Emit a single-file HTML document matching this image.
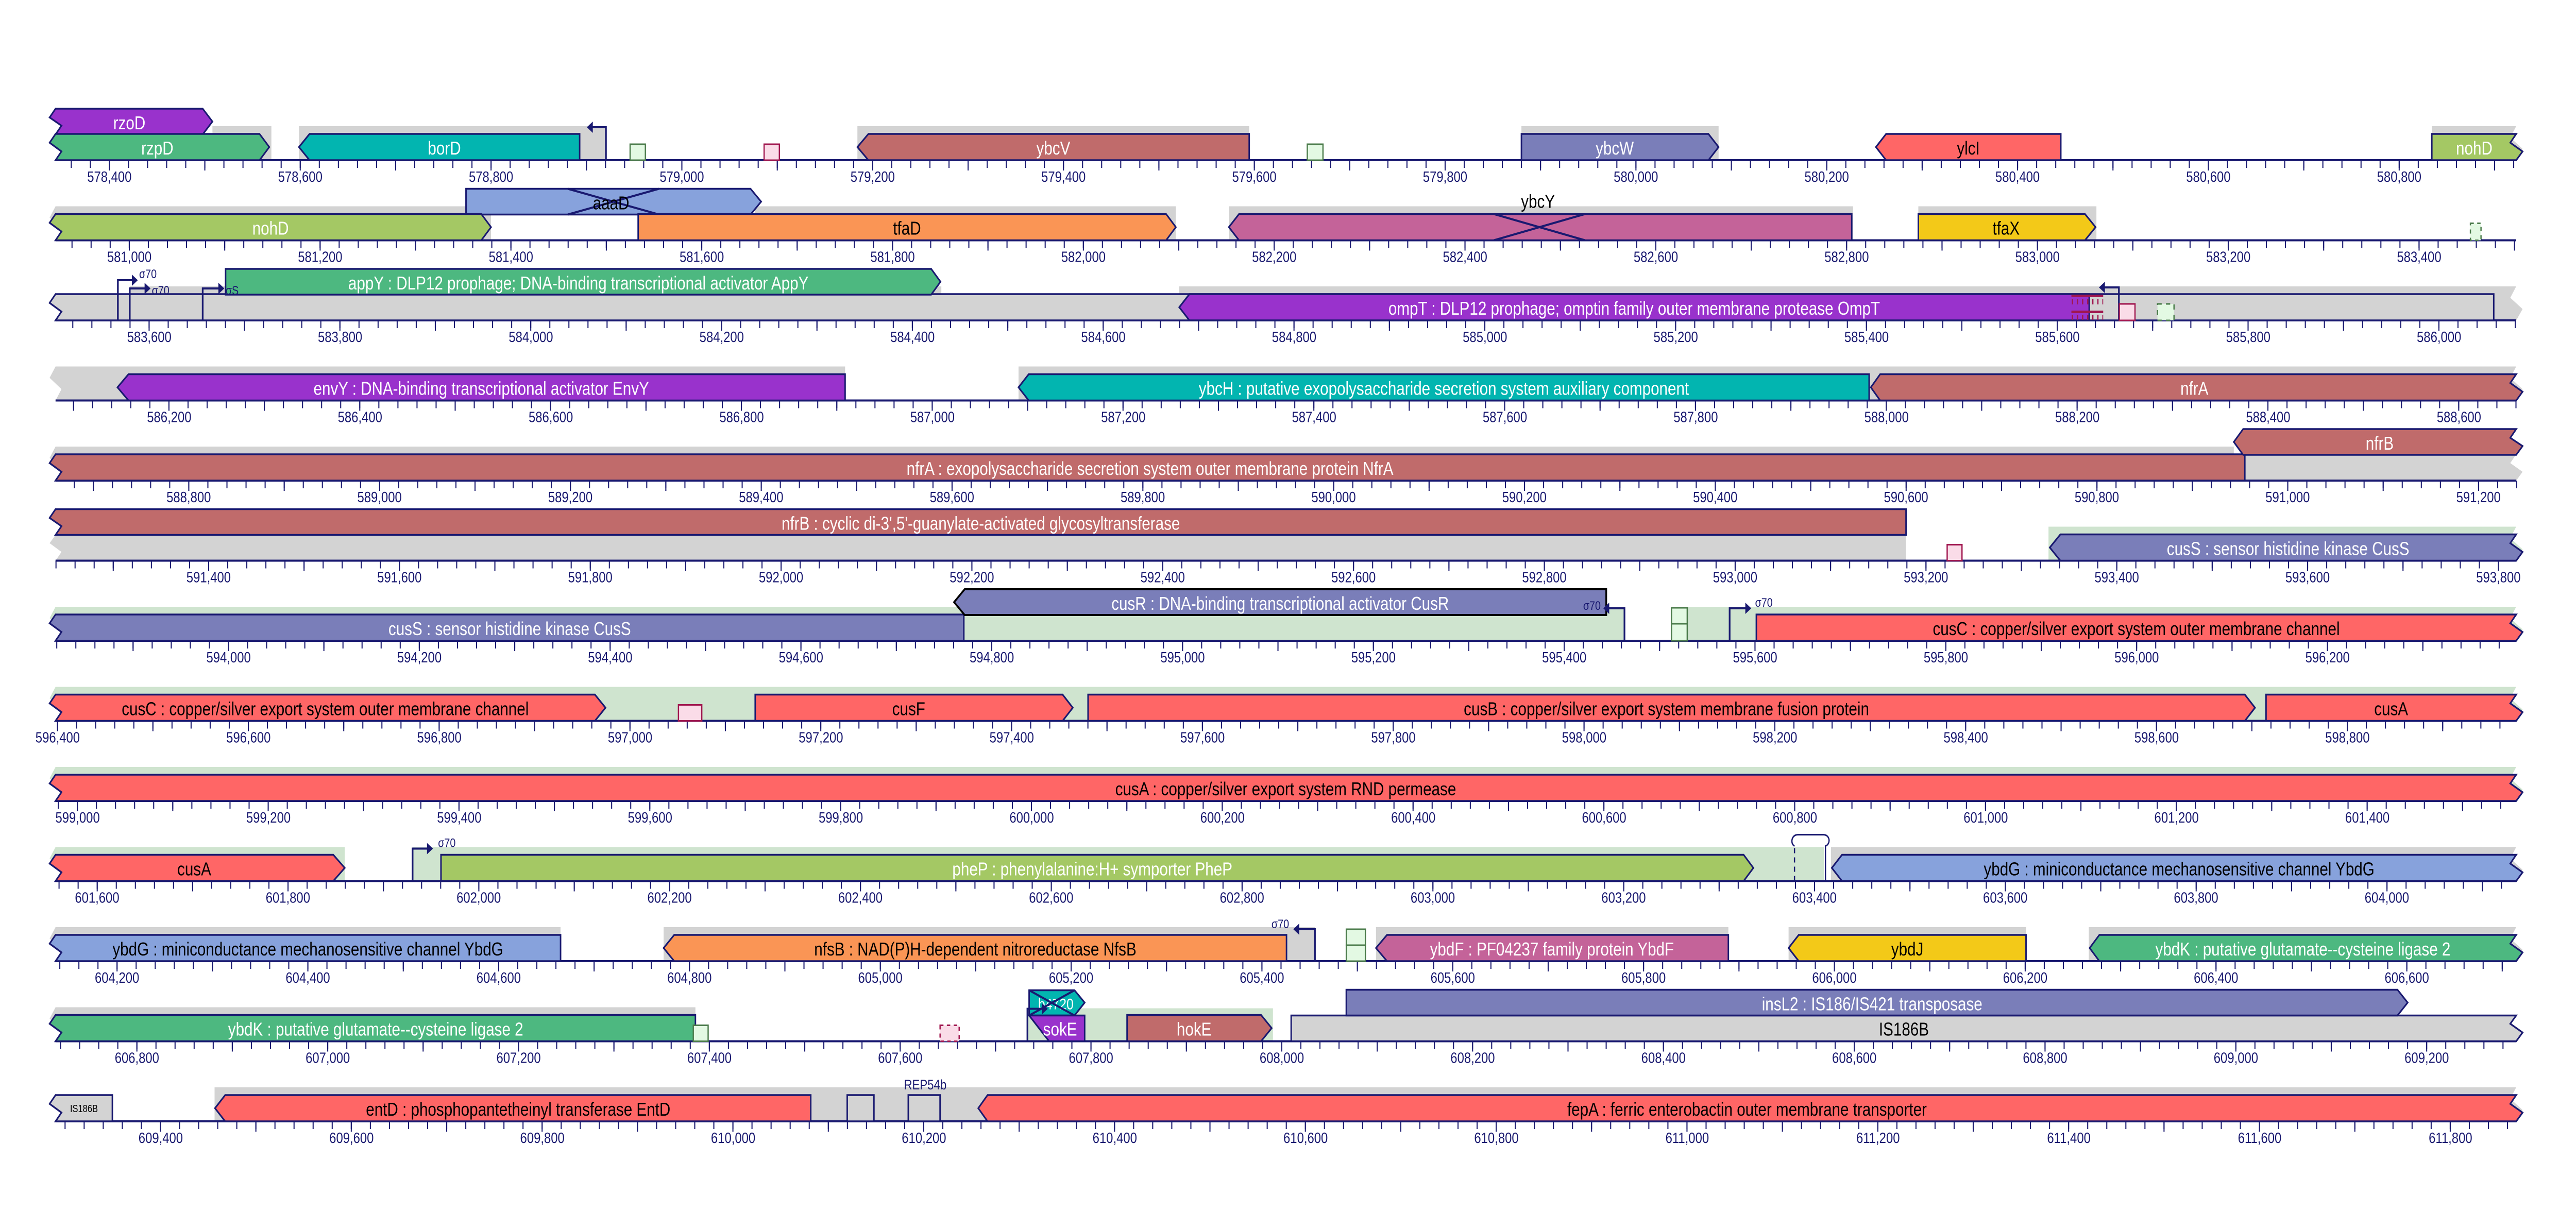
<!DOCTYPE html>
<html><head><meta charset="utf-8"><style>
html,body{margin:0;padding:0;background:#fff;width:100%;height:100%;overflow:hidden;}
svg{display:block;width:100vw;height:100vh;}
text{font-family:"Liberation Sans",Arial,sans-serif;}
.t{font-size:29px;fill:#191970;text-anchor:middle;}
.w{font-size:36px;fill:#fff;text-anchor:middle;}
.k{font-size:36px;fill:#000;text-anchor:middle;}
.s{font-size:24px;fill:#191970;}
.gn{stroke:#191970;stroke-width:3.5;stroke-linejoin:miter;}
.ax{stroke:#191970;stroke-width:4;}
.mi{stroke:#191970;stroke-width:15;stroke-dasharray:2.5 42.5;}
.ma{stroke:#191970;stroke-width:20;stroke-dasharray:2.5 222.5;}
.gb{fill:#d3d3d3;}
.lg{fill:#cfe4cf;}
.pk{fill:#fadce8;stroke:#a0174f;stroke-width:3;}
.gr{fill:#e3f9e3;stroke:#4b7b4b;stroke-width:3;}
.pr{stroke:#191970;stroke-width:4;fill:none;}
.ah{fill:#191970;}
</style></head><body>
<svg viewBox="0 0 6075 2353" preserveAspectRatio="none" xmlns="http://www.w3.org/2000/svg">
<rect width="6075" height="2353" fill="#fff"/>

<!-- ROW 1 -->
<g transform="translate(0,311)">
<rect class="gb" x="501" y="-66" width="139" height="66"/>
<rect class="gb" x="705" y="-66" width="724" height="66"/>
<rect class="gb" x="2022" y="-66" width="924" height="66"/>
<rect class="gb" x="3588" y="-66" width="465" height="66"/>
<polygon class="gb" points="5735,-66 5934,-66 5920,-44 5949,-22 5934,0 5735,0"/>
<line class="ax" x1="131" x2="5934" y1="0" y2="0"/>
<line class="mi" x1="166.8" x2="5936" y1="7.5" y2="7.5"/>
<line class="ma" x1="256.8" x2="5936" y1="10" y2="10"/>
<text class="t" y="42" x="258">578,400</text><text class="t" y="42" x="708">578,600</text><text class="t" y="42" x="1158">578,800</text><text class="t" y="42" x="1608">579,000</text><text class="t" y="42" x="2058">579,200</text><text class="t" y="42" x="2508">579,400</text><text class="t" y="42" x="2958">579,600</text><text class="t" y="42" x="3408">579,800</text><text class="t" y="42" x="3858">580,000</text><text class="t" y="42" x="4308">580,200</text><text class="t" y="42" x="4758">580,400</text><text class="t" y="42" x="5208">580,600</text><text class="t" y="42" x="5658">580,800</text>
<polygon class="gn" fill="#9932cc" points="131,-100 478,-100 501,-75 478,-50 131,-50 145,-67 117,-83"/>
<text class="w" x="305" y="-60">rzoD</text>
<polygon class="gn" fill="#4db880" points="131,-51 612,-51 635,-25.5 612,0 131,0 145,-17 117,-34"/>
<text class="w" x="371" y="-11">rzpD</text>
<polygon class="gn" fill="#02b5b0" points="705,-25.5 730,-51 1367,-51 1367,0 730,0"/>
<text class="w" x="1048" y="-11">borD</text>
<path class="pr" d="M1429,0 V-64 H1396"/><polygon class="ah" points="1384,-64 1398,-75 1398,-53"/>
<rect class="gr" x="1486" y="-31" width="36" height="31"/>
<rect class="pk" x="1802" y="-31" width="36" height="31"/>
<polygon class="gn" fill="#c06b6b" points="2022,-25.5 2048,-51 2946,-51 2946,0 2048,0"/>
<text class="w" x="2484" y="-11">ybcV</text>
<rect class="gr" x="3083" y="-31" width="37" height="31"/>
<polygon class="gn" fill="#7a7eb9" points="3588,-51 4029,-51 4053,-25.5 4029,0 3588,0"/>
<text class="w" x="3808" y="-11">ybcW</text>
<polygon class="gn" fill="#ff6666" points="4424,-25.5 4448,-51 4860,-51 4860,0 4448,0"/>
<text class="k" x="4642" y="-11">ylcI</text>
<polygon class="gn" fill="#a4c864" points="5735,-51 5934,-51 5920,-34 5949,-17 5934,0 5735,0"/>
<text class="w" x="5835" y="-11">nohD</text>
</g>

<!-- ROW 2 -->
<g transform="translate(0,466.5)">
<polygon class="gb" points="131,-66 1158,-66 1158,0 131,0 145,-22 117,-44"/>
<rect class="gb" x="1780" y="-66" width="993" height="66"/>
<rect class="gb" x="2898" y="-66" width="1472" height="66"/>
<rect class="gb" x="4524" y="-66" width="420" height="66"/>
<line class="ax" x1="131" x2="5934" y1="0" y2="0"/>
<line class="mi" x1="168.6" x2="5936" y1="7.5" y2="7.5"/>
<line class="ma" x1="303.7" x2="5936" y1="10" y2="10"/>
<text class="t" y="42" x="305">581,000</text><text class="t" y="42" x="755">581,200</text><text class="t" y="42" x="1205">581,400</text><text class="t" y="42" x="1655">581,600</text><text class="t" y="42" x="2105">581,800</text><text class="t" y="42" x="2555">582,000</text><text class="t" y="42" x="3005">582,200</text><text class="t" y="42" x="3455">582,400</text><text class="t" y="42" x="3905">582,600</text><text class="t" y="42" x="4355">582,800</text><text class="t" y="42" x="4805">583,000</text><text class="t" y="42" x="5255">583,200</text><text class="t" y="42" x="5705">583,400</text>
<polygon class="gn" fill="#87a2dc" points="1099,-100 1770,-100 1795,-75 1770,-50 1099,-50"/>
<line class="pr" x1="1339" y1="-100" x2="1554" y2="-50"/><line class="pr" x1="1554" y1="-100" x2="1339" y2="-50"/>
<text class="k" x="1441" y="-60">aaaD</text>
<polygon class="gn" fill="#a4c864" points="131,-51 1135,-51 1158,-25.5 1135,0 131,0 145,-17 117,-34"/>
<text class="w" x="638" y="-11">nohD</text>
<polygon class="gn" fill="#fa9555" points="1505,-51 2750,-51 2773,-25.5 2750,0 1505,0"/>
<text class="k" x="2139" y="-11">tfaD</text>
<polygon class="gn" fill="#c46399" points="2898,-25.5 2922,-51 4367,-51 4367,0 2922,0"/>
<line class="pr" x1="3523" y1="-51" x2="3738" y2="0"/><line class="pr" x1="3738" y1="-51" x2="3523" y2="0"/>
<text class="k" x="3627" y="-63">ybcY</text>
<polygon class="gn" fill="#f3c918" points="4524,-51 4917,-51 4942,-25.5 4917,0 4524,0"/>
<text class="k" x="4731" y="-11">tfaX</text>
<rect class="gr" x="5826" y="-33" width="25" height="33" stroke-dasharray="8 8"/>
</g>

<!-- ROW 3 -->
<g transform="translate(0,622)">
<rect class="gb" x="306" y="-66" width="1914" height="66"/>
<polygon class="gb" points="2781,-66 5934,-66 5920,-44 5949,-22 5934,0 2781,0"/>
<line class="ax" x1="131" x2="5934" y1="0" y2="0"/>
<line class="mi" x1="170.4" x2="5936" y1="7.5" y2="7.5"/>
<line class="ma" x1="350.4" x2="5936" y1="10" y2="10"/>
<text class="t" y="42" x="352">583,600</text><text class="t" y="42" x="802">583,800</text><text class="t" y="42" x="1252">584,000</text><text class="t" y="42" x="1702">584,200</text><text class="t" y="42" x="2152">584,400</text><text class="t" y="42" x="2602">584,600</text><text class="t" y="42" x="3052">584,800</text><text class="t" y="42" x="3502">585,000</text><text class="t" y="42" x="3952">585,200</text><text class="t" y="42" x="4402">585,400</text><text class="t" y="42" x="4852">585,600</text><text class="t" y="42" x="5302">585,800</text><text class="t" y="42" x="5752">586,000</text>
<polygon class="gn" fill="#d3d3d3" points="131,-51 5881,-51 5881,0 131,0 145,-17 117,-34"/>
<polygon class="gn" fill="#4db880" points="532,-100 2196,-100 2218,-75 2196,-50 532,-50"/>
<text class="w" x="1364" y="-60">appY : DLP12 prophage; DNA-binding transcriptional activator AppY</text>
<path class="pr" d="M278,0 V-78 H313"/><polygon class="ah" points="325,-78 311,-89 311,-67"/><text class="s" x="328" y="-82">σ70</text>
<path class="pr" d="M306,0 V-62 H343"/><polygon class="ah" points="355,-62 341,-73 341,-51"/><text class="s" x="358" y="-50">σ70</text>
<path class="pr" d="M478,0 V-62 H517"/><polygon class="ah" points="529,-62 515,-73 515,-51"/><text class="s" x="532" y="-50">σS</text>
<polygon class="gn" fill="#9932cc" points="2781,-25.5 2805,-51 4927,-51 4927,0 2805,0"/>
<text class="w" x="3854" y="-11">ompT : DLP12 prophage; omptin family outer membrane protease OmpT</text>
<rect x="4885" y="-50" width="75" height="5" fill="#a0174f"/>
<rect x="4885" y="-19" width="75" height="5" fill="#a0174f"/>
<line x1="4886" x2="4960" y1="-36" y2="-36" stroke="#a0174f" stroke-width="10" stroke-dasharray="3 9"/>
<line x1="4886" x2="4960" y1="-6" y2="-6" stroke="#a0174f" stroke-width="10" stroke-dasharray="3 9"/>
<path class="pr" d="M4997,0 V-64 H4962"/><polygon class="ah" points="4950,-64 4964,-75 4964,-53"/>
<rect class="pk" x="4998" y="-32" width="37" height="32"/>
<rect class="gr" x="5088" y="-32" width="39" height="32" stroke-dasharray="10 10"/>
</g>

<!-- ROW 4 -->
<g transform="translate(0,777.5)">
<polygon class="gb" points="131,-66 1993,-66 1993,0 131,0 145,-22 117,-44"/>
<polygon class="gb" points="2402,-66 5934,-66 5920,-44 5949,-22 5934,0 2402,0"/>
<line class="ax" x1="131" x2="5934" y1="0" y2="0"/>
<line class="mi" x1="172.2" x2="5936" y1="7.5" y2="7.5"/>
<line class="ma" x1="172.2" x2="5936" y1="10" y2="10"/>
<text class="t" y="42" x="399">586,200</text><text class="t" y="42" x="849">586,400</text><text class="t" y="42" x="1299">586,600</text><text class="t" y="42" x="1749">586,800</text><text class="t" y="42" x="2199">587,000</text><text class="t" y="42" x="2649">587,200</text><text class="t" y="42" x="3099">587,400</text><text class="t" y="42" x="3549">587,600</text><text class="t" y="42" x="3999">587,800</text><text class="t" y="42" x="4449">588,000</text><text class="t" y="42" x="4899">588,200</text><text class="t" y="42" x="5349">588,400</text><text class="t" y="42" x="5799">588,600</text>
<polygon class="gn" fill="#9932cc" points="277,-25.5 303,-51 1993,-51 1993,0 303,0"/>
<text class="w" x="1135" y="-11">envY : DNA-binding transcriptional activator EnvY</text>
<polygon class="gn" fill="#02b5b0" points="2402,-25.5 2426,-51 4408,-51 4408,0 2426,0"/>
<text class="w" x="3405" y="-11">ybcH : putative exopolysaccharide secretion system auxiliary component</text>
<polygon class="gn" fill="#c06b6b" points="4412,-25.5 4434,-51 5934,-51 5920,-34 5949,-17 5934,0 4434,0"/>
<text class="w" x="5175" y="-11">nfrA</text>
</g>

<!-- ROW 5 -->
<g transform="translate(0,933)">
<polygon class="gb" points="131,-66 5268,-66 5268,0 131,0 145,-22 117,-44"/>
<polygon class="gb" points="5294,-51 5934,-51 5920,-34 5949,-17 5934,0 5294,0"/>
<line class="ax" x1="131" x2="5934" y1="0" y2="0"/>
<line class="mi" x1="174" x2="5936" y1="7.5" y2="7.5"/>
<line class="ma" x1="219" x2="5936" y1="10" y2="10"/>
<text class="t" y="42" x="445">588,800</text><text class="t" y="42" x="895">589,000</text><text class="t" y="42" x="1345">589,200</text><text class="t" y="42" x="1795">589,400</text><text class="t" y="42" x="2245">589,600</text><text class="t" y="42" x="2695">589,800</text><text class="t" y="42" x="3145">590,000</text><text class="t" y="42" x="3595">590,200</text><text class="t" y="42" x="4045">590,400</text><text class="t" y="42" x="4495">590,600</text><text class="t" y="42" x="4945">590,800</text><text class="t" y="42" x="5395">591,000</text><text class="t" y="42" x="5845">591,200</text>
<polygon class="gn" fill="#c06b6b" points="131,-51 5294,-51 5294,0 131,0 145,-17 117,-34"/>
<text class="w" x="2712" y="-11">nfrA : exopolysaccharide secretion system outer membrane protein NfrA</text>
<polygon class="gn" fill="#c06b6b" points="5268,-75 5290,-100 5934,-100 5920,-83 5949,-67 5934,-50 5290,-50"/>
<text class="w" x="5612" y="-60">nfrB</text>
</g>

<!-- ROW 6 -->
<g transform="translate(0,1088.5)">
<polygon class="gb" points="131,-50 4495,-50 4495,0 131,0 145,-17 117,-34"/>
<polygon class="lg" points="4831,-66 5934,-66 5920,-44 5949,-22 5934,0 4831,0"/>
<line class="ax" x1="131" x2="5934" y1="0" y2="0"/>
<line class="mi" x1="130.8" x2="5936" y1="7.5" y2="7.5"/>
<line class="ma" x1="265.8" x2="5936" y1="10" y2="10"/>
<text class="t" y="42" x="492">591,400</text><text class="t" y="42" x="942">591,600</text><text class="t" y="42" x="1392">591,800</text><text class="t" y="42" x="1842">592,000</text><text class="t" y="42" x="2292">592,200</text><text class="t" y="42" x="2742">592,400</text><text class="t" y="42" x="3192">592,600</text><text class="t" y="42" x="3642">592,800</text><text class="t" y="42" x="4092">593,000</text><text class="t" y="42" x="4542">593,200</text><text class="t" y="42" x="4992">593,400</text><text class="t" y="42" x="5442">593,600</text><text class="t" y="42" x="5892">593,800</text>
<polygon class="gn" fill="#c06b6b" points="131,-100 4495,-100 4495,-50 131,-50 145,-67 117,-83"/>
<text class="w" x="2313" y="-60">nfrB : cyclic di-3',5'-guanylate-activated glycosyltransferase</text>
<rect class="pk" x="4592" y="-31" width="35" height="31"/>
<polygon class="gn" fill="#7a7eb9" points="4834,-25.5 4859,-51 5934,-51 5920,-34 5949,-17 5934,0 4859,0"/>
<text class="w" x="5396" y="-11">cusS : sensor histidine kinase CusS</text>
</g>

<!-- ROW 7 -->
<g transform="translate(0,1244)">
<polygon class="lg" points="131,-66 3831,-66 3831,0 131,0 145,-22 117,-44"/>
<polygon class="lg" points="3955,-66 5934,-66 5920,-44 5949,-22 5934,0 3955,0"/>
<line class="ax" x1="131" x2="5934" y1="0" y2="0"/>
<line class="mi" x1="132.6" x2="5936" y1="7.5" y2="7.5"/>
<line class="ma" x1="312.6" x2="5936" y1="10" y2="10"/>
<text class="t" y="42" x="539">594,000</text><text class="t" y="42" x="989">594,200</text><text class="t" y="42" x="1439">594,400</text><text class="t" y="42" x="1889">594,600</text><text class="t" y="42" x="2339">594,800</text><text class="t" y="42" x="2789">595,000</text><text class="t" y="42" x="3239">595,200</text><text class="t" y="42" x="3689">595,400</text><text class="t" y="42" x="4139">595,600</text><text class="t" y="42" x="4589">595,800</text><text class="t" y="42" x="5039">596,000</text><text class="t" y="42" x="5489">596,200</text>
<polygon class="gn" fill="#7a7eb9" points="131,-51 2273,-51 2273,0 131,0 145,-17 117,-34"/>
<text class="w" x="1202" y="-11">cusS : sensor histidine kinase CusS</text>
<polygon fill="#7a7eb9" stroke="#000" stroke-width="4" points="2250,-75 2275,-100 3788,-100 3788,-50 2275,-50"/>
<text class="w" x="3019" y="-60">cusR : DNA-binding transcriptional activator CusR</text>
<path class="pr" d="M3831,0 V-63 H3793"/><polygon class="ah" points="3781,-63 3795,-74 3795,-52"/>
<text class="s" x="3775" y="-60" text-anchor="end">σ70</text>
<rect class="gr" x="3942" y="-64" width="37" height="31"/>
<rect class="gr" x="3942" y="-33" width="37" height="33"/>
<path class="pr" d="M4079,0 V-63 H4118"/><polygon class="ah" points="4130,-63 4116,-74 4116,-52"/>
<text class="s" x="4139" y="-66">σ70</text>
<polygon class="gn" fill="#ff6666" points="4142,-51 5934,-51 5920,-34 5949,-17 5934,0 4142,0"/>
<text class="k" x="5038" y="-11">cusC : copper/silver export system outer membrane channel</text>
</g>

<!-- ROW 8 -->
<g transform="translate(0,1399.5)">
<polygon class="lg" points="131,-66 5934,-66 5920,-44 5949,-22 5934,0 131,0 145,-22 117,-44"/>
<line class="ax" x1="131" x2="5934" y1="0" y2="0"/>
<line class="mi" x1="134.4" x2="5936" y1="7.5" y2="7.5"/>
<line class="ma" x1="134.4" x2="5936" y1="10" y2="10"/>
<text class="t" y="42" x="136">596,400</text><text class="t" y="42" x="586">596,600</text><text class="t" y="42" x="1036">596,800</text><text class="t" y="42" x="1486">597,000</text><text class="t" y="42" x="1936">597,200</text><text class="t" y="42" x="2386">597,400</text><text class="t" y="42" x="2836">597,600</text><text class="t" y="42" x="3286">597,800</text><text class="t" y="42" x="3736">598,000</text><text class="t" y="42" x="4186">598,200</text><text class="t" y="42" x="4636">598,400</text><text class="t" y="42" x="5086">598,600</text><text class="t" y="42" x="5536">598,800</text>
<polygon class="gn" fill="#ff6666" points="131,-51 1403,-51 1428,-25.5 1403,0 131,0 145,-17 117,-34"/>
<text class="k" x="767" y="-11">cusC : copper/silver export system outer membrane channel</text>
<rect class="pk" x="1600" y="-31" width="55" height="31"/>
<polygon class="gn" fill="#ff6666" points="1781,-51 2506,-51 2530,-25.5 2506,0 1781,0"/>
<text class="k" x="2143" y="-11">cusF</text>
<polygon class="gn" fill="#ff6666" points="2566,-51 5294,-51 5318,-25.5 5294,0 2566,0"/>
<text class="k" x="3930" y="-11">cusB : copper/silver export system membrane fusion protein</text>
<polygon class="gn" fill="#ff6666" points="5344,-51 5934,-51 5920,-34 5949,-17 5934,0 5344,0"/>
<text class="k" x="5639" y="-11">cusA</text>
</g>

<!-- ROW 9 -->
<g transform="translate(0,1555)">
<polygon class="lg" points="131,-66 5934,-66 5920,-44 5949,-22 5934,0 131,0 145,-22 117,-44"/>
<line class="ax" x1="131" x2="5934" y1="0" y2="0"/>
<line class="mi" x1="136.2" x2="5936" y1="7.5" y2="7.5"/>
<line class="ma" x1="181.2" x2="5936" y1="10" y2="10"/>
<text class="t" y="42" x="183">599,000</text><text class="t" y="42" x="633">599,200</text><text class="t" y="42" x="1083">599,400</text><text class="t" y="42" x="1533">599,600</text><text class="t" y="42" x="1983">599,800</text><text class="t" y="42" x="2433">600,000</text><text class="t" y="42" x="2883">600,200</text><text class="t" y="42" x="3333">600,400</text><text class="t" y="42" x="3783">600,600</text><text class="t" y="42" x="4233">600,800</text><text class="t" y="42" x="4683">601,000</text><text class="t" y="42" x="5133">601,200</text><text class="t" y="42" x="5583">601,400</text>
<polygon class="gn" fill="#ff6666" points="131,-51 5934,-51 5920,-34 5949,-17 5934,0 131,0 145,-17 117,-34"/>
<text class="k" x="3032" y="-11">cusA : copper/silver export system RND permease</text>
</g>

<!-- ROW 10 -->
<g transform="translate(0,1710.5)">
<polygon class="lg" points="131,-66 813,-66 813,0 131,0 145,-22 117,-44"/>
<rect class="lg" x="973" y="-66" width="3329" height="66"/>
<polygon class="gb" points="4318,-66 5934,-66 5920,-44 5949,-22 5934,0 4318,0"/>
<line class="ax" x1="131" x2="5934" y1="0" y2="0"/>
<line class="mi" x1="138" x2="5936" y1="7.5" y2="7.5"/>
<line class="ma" x1="228" x2="5936" y1="10" y2="10"/>
<text class="t" y="42" x="229">601,600</text><text class="t" y="42" x="679">601,800</text><text class="t" y="42" x="1129">602,000</text><text class="t" y="42" x="1579">602,200</text><text class="t" y="42" x="2029">602,400</text><text class="t" y="42" x="2479">602,600</text><text class="t" y="42" x="2929">602,800</text><text class="t" y="42" x="3379">603,000</text><text class="t" y="42" x="3829">603,200</text><text class="t" y="42" x="4279">603,400</text><text class="t" y="42" x="4729">603,600</text><text class="t" y="42" x="5179">603,800</text><text class="t" y="42" x="5629">604,000</text>
<polygon class="gn" fill="#ff6666" points="131,-51 786,-51 813,-25.5 786,0 131,0 145,-17 117,-34"/>
<text class="k" x="458" y="-11">cusA</text>
<path class="pr" d="M973,0 V-63 H1009"/><polygon class="ah" points="1021,-63 1007,-74 1007,-52"/>
<text class="s" x="1033" y="-66">σ70</text>
<polygon class="gn" fill="#a4c864" points="1040,-51 4112,-51 4135,-25.5 4112,0 1040,0"/>
<text class="w" x="2576" y="-11">pheP : phenylalanine:H+ symporter PheP</text>
<path d="M4305,0 V-68 C4318,-72 4316,-90 4300,-90 H4240 C4224,-90 4222,-72 4232,-68" stroke="#191970" stroke-width="3" fill="none"/>
<line x1="4232" y1="0" x2="4232" y2="-68" stroke="#191970" stroke-width="3" stroke-dasharray="10 8"/>
<polygon class="gn" fill="#87a2dc" points="4320,-25.5 4344,-51 5934,-51 5920,-34 5949,-17 5934,0 4344,0"/>
<text class="k" x="5139" y="-11">ybdG : miniconductance mechanosensitive channel YbdG</text>
</g>

<!-- ROW 11 -->
<g transform="translate(0,1866)">
<polygon class="gb" points="131,-66 1322,-66 1322,0 131,0 145,-22 117,-44"/>
<rect class="gb" x="1565" y="-66" width="1536" height="66"/>
<rect class="gb" x="3245" y="-66" width="831" height="66"/>
<rect class="gb" x="4218" y="-66" width="560" height="66"/>
<polygon class="gb" points="4926,-66 5934,-66 5920,-44 5949,-22 5934,0 4926,0"/>
<line class="ax" x1="131" x2="5934" y1="0" y2="0"/>
<line class="mi" x1="139.8" x2="5936" y1="7.5" y2="7.5"/>
<line class="ma" x1="274.8" x2="5936" y1="10" y2="10"/>
<text class="t" y="42" x="276">604,200</text><text class="t" y="42" x="726">604,400</text><text class="t" y="42" x="1176">604,600</text><text class="t" y="42" x="1626">604,800</text><text class="t" y="42" x="2076">605,000</text><text class="t" y="42" x="2526">605,200</text><text class="t" y="42" x="2976">605,400</text><text class="t" y="42" x="3426">605,600</text><text class="t" y="42" x="3876">605,800</text><text class="t" y="42" x="4326">606,000</text><text class="t" y="42" x="4776">606,200</text><text class="t" y="42" x="5226">606,400</text><text class="t" y="42" x="5676">606,600</text>
<polygon class="gn" fill="#87a2dc" points="131,-51 1322,-51 1322,0 131,0 145,-17 117,-34"/>
<text class="k" x="726" y="-11">ybdG : miniconductance mechanosensitive channel YbdG</text>
<polygon class="gn" fill="#fa9555" points="1565,-25.5 1590,-51 3034,-51 3034,0 1590,0"/>
<text class="k" x="2300" y="-11">nfsB : NAD(P)H-dependent nitroreductase NfsB</text>
<path class="pr" d="M3101,0 V-62 H3062"/><polygon class="ah" points="3050,-62 3064,-73 3064,-51"/>
<text class="s" x="3040" y="-64" text-anchor="end">σ70</text>
<rect class="gr" x="3175" y="-62" width="45" height="31"/>
<rect class="gr" x="3175" y="-31" width="45" height="31"/>
<polygon class="gn" fill="#c46399" points="3245,-25.5 3271,-51 4076,-51 4076,0 3271,0"/>
<text class="w" x="3660" y="-11">ybdF : PF04237 family protein YbdF</text>
<polygon class="gn" fill="#f3c918" points="4218,-25.5 4242,-51 4778,-51 4778,0 4242,0"/>
<text class="k" x="4498" y="-11">ybdJ</text>
<polygon class="gn" fill="#4db880" points="4928,-25.5 4951,-51 5934,-51 5920,-34 5949,-17 5934,0 4951,0"/>
<text class="w" x="5431" y="-11">ybdK : putative glutamate--cysteine ligase 2</text>
</g>

<!-- ROW 12 -->
<g transform="translate(0,2021.5)">
<polygon class="gb" points="131,-66 1640,-66 1640,0 131,0 145,-22 117,-44"/>
<rect class="lg" x="2423" y="-64" width="579" height="64"/>
<line class="ax" x1="131" x2="5934" y1="0" y2="0"/>
<line class="mi" x1="141.6" x2="5936" y1="7.5" y2="7.5"/>
<line class="ma" x1="321.6" x2="5936" y1="10" y2="10"/>
<text class="t" y="42" x="323">606,800</text><text class="t" y="42" x="773">607,000</text><text class="t" y="42" x="1223">607,200</text><text class="t" y="42" x="1673">607,400</text><text class="t" y="42" x="2123">607,600</text><text class="t" y="42" x="2573">607,800</text><text class="t" y="42" x="3023">608,000</text><text class="t" y="42" x="3473">608,200</text><text class="t" y="42" x="3923">608,400</text><text class="t" y="42" x="4373">608,600</text><text class="t" y="42" x="4823">608,800</text><text class="t" y="42" x="5273">609,000</text><text class="t" y="42" x="5723">609,200</text>
<polygon class="gn" fill="#4db880" points="131,-51 1640,-51 1640,0 131,0 145,-17 117,-34"/>
<text class="w" x="886" y="-11">ybdK : putative glutamate--cysteine ligase 2</text>
<rect class="gr" x="1635" y="-31" width="35" height="31"/>
<rect class="pk" x="2217" y="-31" width="45" height="31" stroke-dasharray="8 8"/>
<polygon class="gn" fill="#02b5b0" points="2427,-99 2534,-99 2558,-75 2534,-50 2427,-50"/>
<text x="2490" y="-62" font-size="30" fill="#fff" text-anchor="middle">b4720</text>
<line class="pr" x1="2427" y1="-99" x2="2534" y2="-50"/><line class="pr" x1="2534" y1="-99" x2="2427" y2="-50"/>
<path class="pr" d="M2423,0 V-63 H2459"/><polygon class="ah" points="2471,-63 2457,-74 2457,-52"/>
<polygon class="gn" fill="#9932cc" points="2427,-50 2558,-50 2558,0 2474,0"/>
<text class="w" x="2500" y="-11">sokE</text>
<polygon class="gn" fill="#c06b6b" points="2658,-51 2974,-51 2999,-25.5 2974,0 2658,0"/>
<text class="w" x="2816" y="-11">hokE</text>
<polygon class="gn" fill="#d3d3d3" points="3045,-50 5934,-50 5920,-34 5949,-17 5934,0 3045,0"/>
<text class="k" x="4490" y="-11">IS186B</text>
<polygon class="gn" fill="#7a7eb9" points="3175,-100 5654,-100 5678,-75 5654,-50 3175,-50"/>
<text class="w" x="4415" y="-60">insL2 : IS186/IS421 transposase</text>
</g>

<!-- ROW 13 -->
<g transform="translate(0,2177)">
<polygon class="gb" points="506,-66 5934,-66 5920,-44 5949,-22 5934,0 506,0"/>
<line class="ax" x1="131" x2="5934" y1="0" y2="0"/>
<line class="mi" x1="152.2" x2="5936" y1="7.5" y2="7.5"/>
<line class="ma" x1="377.2" x2="5936" y1="10" y2="10"/>
<text class="t" y="42" x="379">609,400</text><text class="t" y="42" x="829">609,600</text><text class="t" y="42" x="1279">609,800</text><text class="t" y="42" x="1729">610,000</text><text class="t" y="42" x="2179">610,200</text><text class="t" y="42" x="2629">610,400</text><text class="t" y="42" x="3079">610,600</text><text class="t" y="42" x="3529">610,800</text><text class="t" y="42" x="3979">611,000</text><text class="t" y="42" x="4429">611,200</text><text class="t" y="42" x="4879">611,400</text><text class="t" y="42" x="5329">611,600</text><text class="t" y="42" x="5779">611,800</text>
<polygon class="gn" fill="#d3d3d3" points="131,-51 265,-51 265,0 131,0 145,-17 117,-34"/>
<text x="198" y="-18" font-size="20" fill="#000" text-anchor="middle">IS186B</text>
<polygon class="gn" fill="#ff6666" points="507,-25.5 531,-51 1912,-51 1912,0 531,0"/>
<text class="k" x="1222" y="-11">entD : phosphopantetheinyl transferase EntD</text>
<rect class="gn" fill="#d3d3d3" x="1998" y="-51" width="63" height="51"/>
<rect class="gn" fill="#d3d3d3" x="2142" y="-51" width="75" height="51"/>
<text x="2182" y="-62" font-size="27" fill="#191970" text-anchor="middle">REP54b</text>
<polygon class="gn" fill="#ff6666" points="2307,-25.5 2329,-51 5934,-51 5920,-34 5949,-17 5934,0 2329,0"/>
<text class="k" x="4120" y="-11">fepA : ferric enterobactin outer membrane transporter</text>
</g>
</svg>
</body></html>
